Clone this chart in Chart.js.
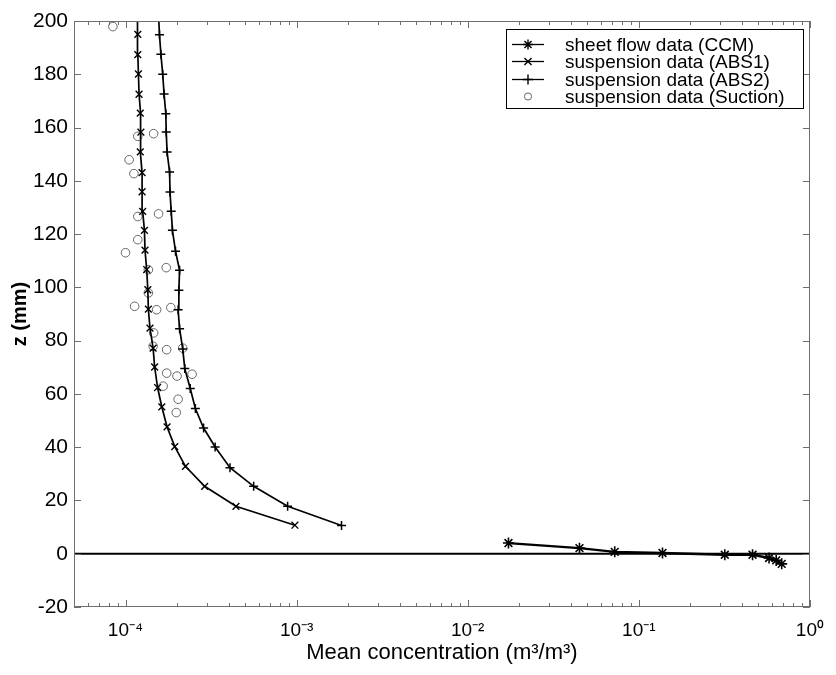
<!DOCTYPE html>
<html><head><meta charset="utf-8">
<script src="https://cdn.jsdelivr.net/npm/chart.js@4.4.1/dist/chart.umd.min.js"></script>
<style>html,body{margin:0;padding:0;background:#fff}#wrap{width:836px;height:675px}</style>
</head><body><div id="wrap"><canvas id="c" width="836" height="675"></canvas></div>
<script>
// ---------------- data ----------------
const seriesLabels = ['sheet flow data (CCM)', 'suspension data (ABS1)', 'suspension data (ABS2)', 'suspension data (Suction)'];

const ccmConc = [0.0173, 0.045, 0.0723, 0.1375, 0.318, 0.462, 0.577, 0.635, 0.684];
const ccmZ    = [4.0, 2.1, 0.7, 0.3, -0.4, -0.4, -1.6, -2.5, -3.8];

const abs1Conc = [9.77e-4, 4.42e-4, 2.90e-4, 2.24e-4, 1.94e-4, 1.75e-4, 1.63e-4, 1.54e-4, 1.48e-4, 1.45e-4, 1.39e-4, 1.36e-4, 1.35e-4, 1.33e-4, 1.30e-4, 1.29e-4, 1.26e-4, 1.25e-4, 1.25e-4, 1.22e-4, 1.23e-4, 1.22e-4, 1.20e-4, 1.19e-4, 1.18e-4, 1.18e-4, 1.17e-4];
const abs1Z    = [10.7, 17.8, 25.3, 32.8, 40.2, 47.6, 55.1, 62.4, 70.1, 77.2, 84.7, 91.8, 99.1, 106.7, 114.0, 121.4, 128.5, 135.9, 143.1, 150.9, 158.3, 165.4, 172.5, 180.1, 187.4, 195.0, 202.4];

const abs2Conc = [1.83e-3, 8.86e-4, 5.61e-4, 4.08e-4, 3.34e-4, 2.86e-4, 2.56e-4, 2.39e-4, 2.22e-4, 2.16e-4, 2.07e-4, 2.03e-4, 2.05e-4, 2.07e-4, 1.96e-4, 1.88e-4, 1.85e-4, 1.82e-4, 1.81e-4, 1.75e-4, 1.73e-4, 1.72e-4, 1.68e-4, 1.65e-4, 1.61e-4, 1.58e-4, 1.56e-4];
const abs2Z    = [10.6, 17.8, 25.3, 32.3, 40.1, 47.2, 54.5, 62.0, 69.5, 76.9, 84.5, 91.6, 98.9, 106.4, 113.6, 121.4, 128.6, 135.8, 143.3, 150.8, 158.3, 165.2, 172.6, 180.0, 187.5, 194.8, 202.2];

const suctionConc = [8.44e-5, 1.46e-4, 1.18e-4, 1.05e-4, 1.12e-4, 1.56e-4, 1.18e-4, 1.18e-4, 1.00e-4, 1.73e-4, 1.36e-4, 1.36e-4, 1.13e-4, 1.52e-4, 1.84e-4, 1.46e-4, 1.45e-4, 1.74e-4, 2.16e-4, 1.74e-4, 2.00e-4, 2.45e-4, 1.66e-4, 2.03e-4, 1.98e-4];
const suctionZ    = [197.9, 157.7, 156.7, 147.9, 142.7, 127.6, 126.6, 117.9, 113.0, 107.4, 106.6, 97.9, 92.9, 91.6, 92.4, 82.9, 77.9, 76.6, 77.2, 67.8, 66.7, 67.4, 62.9, 58.0, 53.0];

const xTickValues = [1e-4, 1e-3, 1e-2, 1e-1, 1];
const xTickLabels = ['10\u207B\u2074', '10\u207B\u00B3', '10\u207B\u00B2', '10\u207B\u00B9', '10\u2070'];
const yTickValues = [-20, 0, 20, 40, 60, 80, 100, 120, 140, 160, 180, 200];

// ---------------- chart ----------------
const FONT = "'Liberation Sans', Arial, sans-serif";
const pts = (xs, ys) => xs.map((v, i) => ({x: v, y: ys[i]}));
const insideY = ctx => !(ctx.raw && ctx.raw.y > 200);

const datasets = [
  {label: seriesLabels[0], data: pts(ccmConc, ccmZ), showLine: true, borderColor: '#000', borderWidth: 2.4,
   pointStyle: 'star', pointRadius: 5.5, pointBorderColor: '#000', pointBorderWidth: 1.6, pointBackgroundColor: '#000', clip: 0},
  {label: seriesLabels[1], data: pts(abs1Conc, abs1Z), showLine: true, borderColor: '#000', borderWidth: 1.7,
   pointStyle: 'crossRot', pointRadius: ctx => insideY(ctx) ? 4.8 : 0, pointBorderColor: '#000', pointBorderWidth: 1.4, clip: 0},
  {label: seriesLabels[2], data: pts(abs2Conc, abs2Z), showLine: true, borderColor: '#000', borderWidth: 1.7,
   pointStyle: 'cross', pointRadius: ctx => insideY(ctx) ? 4.5 : 0, pointBorderColor: '#000', pointBorderWidth: 1.5, clip: 0},
  {label: seriesLabels[3], data: pts(suctionConc, suctionZ), showLine: false,
   pointStyle: 'circle', pointRadius: 4.3, pointBorderColor: '#666', pointBorderWidth: 1, pointBackgroundColor: 'rgba(0,0,0,0)', clip: 0}
];

const framePlugin = {
  id: 'frame',
  beforeDatasetsDraw(chart) {
    const {ctx, chartArea: a, scales: {y}} = chart;
    const y0 = y.getPixelForValue(0);
    ctx.save();
    ctx.strokeStyle = '#000'; ctx.lineWidth = 2;
    ctx.beginPath(); ctx.moveTo(a.left, y0); ctx.lineTo(a.right, y0); ctx.stroke();
    ctx.restore();
  },
  afterDatasetsDraw(chart) {
    const {ctx, chartArea: a, scales: {x, y}} = chart;
    ctx.save();
    ctx.strokeStyle = '#6e6e6e'; ctx.lineWidth = 1;
    ctx.strokeRect(Math.round(a.left) + 0.5, Math.round(a.top) + 0.5, Math.round(a.right - a.left) - 1, Math.round(a.bottom - a.top) - 1);
    ctx.beginPath();
    yTickValues.forEach(v => {
      const py = Math.round(y.getPixelForValue(v)) + 0.5;
      ctx.moveTo(a.left, py); ctx.lineTo(a.left + 7, py);
      ctx.moveTo(a.right, py); ctx.lineTo(a.right - 7, py);
    });
    for (let d = -5; d <= 0; d++) {
      for (let m = 1; m <= 9; m++) {
        const v = m * Math.pow(10, d);
        if (v < x.min * 0.999 || v > x.max * 1.001) continue;
        const px = Math.round(x.getPixelForValue(v)) + 0.5;
        const len = (m === 1) ? 7 : 4;
        ctx.moveTo(px, a.bottom); ctx.lineTo(px, a.bottom - len);
        ctx.moveTo(px, a.top); ctx.lineTo(px, a.top + len);
      }
    }
    ctx.stroke();

    // legend box (inside the plot, top right)
    ctx.font = '19px ' + FONT;
    const rowH = 17.5, sampleLen = 32, padL = 6, gap = 21, padR = 18, padT = 6, padB = 3;
    const textW = Math.max(...seriesLabels.map(s => ctx.measureText(s).width));
    const w = Math.round(padL + sampleLen + gap + textW + padR);
    const h = Math.round(padT + rowH * seriesLabels.length + padB);
    const bx = Math.round(a.right - 7 - w), by = Math.round(a.top + 8);
    ctx.fillStyle = '#fff';
    ctx.fillRect(bx, by, w, h);
    ctx.strokeStyle = '#000'; ctx.lineWidth = 1;
    ctx.strokeRect(bx + 0.5, by + 0.5, w, h);
    chart.data.datasets.forEach((ds, i) => {
      const cy = Math.round(by + padT + rowH * i + rowH / 2) + 0.5;
      const sx = bx + padL;
      if (ds.showLine) {
        ctx.strokeStyle = '#000'; ctx.lineWidth = 1.3;
        ctx.beginPath(); ctx.moveTo(sx, cy); ctx.lineTo(sx + sampleLen, cy); ctx.stroke();
      }
      ctx.strokeStyle = ds.pointBorderColor; ctx.fillStyle = ds.pointBackgroundColor || 'rgba(0,0,0,0)';
      ctx.lineWidth = ds.showLine ? 1.4 : 1;
      Chart.helpers.drawPoint(ctx, {pointStyle: ds.pointStyle, radius: ds.showLine ? 5 : 3.6, rotation: 0, borderWidth: ctx.lineWidth}, sx + sampleLen / 2, cy);
      ctx.fillStyle = '#000'; ctx.textBaseline = 'middle'; ctx.textAlign = 'left';
      ctx.fillText(ds.label, sx + sampleLen + gap, cy + 1);
    });
    ctx.restore();
  }
};

new Chart(document.getElementById('c'), {
  type: 'scatter',
  data: {datasets},
  plugins: [framePlugin],
  options: {
    responsive: false, animation: false,
    layout: {padding: {left: 0, right: 16, top: 21, bottom: 0}},
    plugins: {legend: {display: false}, tooltip: {enabled: false}},
    elements: {line: {tension: 0}},
    scales: {
      x: {
        type: 'logarithmic', min: 5e-5, max: 1,
        afterBuildTicks: s => { s.ticks = xTickValues.map(v => ({value: v})); },
        afterFit: s => { s.height = 68; },
        grid: {display: false, drawTicks: false}, border: {display: false},
        ticks: {color: '#000', font: {family: FONT, size: 19}, padding: 12, maxRotation: 0, autoSkip: false,
                callback: (v) => xTickLabels[xTickValues.indexOf(v)] ?? ''},
        title: {display: true, text: 'Mean concentration (m\u00B3/m\u00B3)', color: '#000', font: {family: FONT, size: 22}, padding: {top: 0, bottom: 9}}
      },
      y: {
        type: 'linear', min: -20, max: 200,
        afterBuildTicks: s => { s.ticks = yTickValues.map(v => ({value: v})); },
        afterFit: s => { s.width = 74; },
        grid: {display: false, drawTicks: false}, border: {display: false},
        ticks: {color: '#000', font: {family: FONT, size: 21}, padding: 6},
        title: {display: true, text: 'z (mm)', color: '#000', font: {family: FONT, size: 20, weight: 'bold'}, padding: {top: 8, bottom: 0}}
      }
    }
  }
});
</script></body></html>
